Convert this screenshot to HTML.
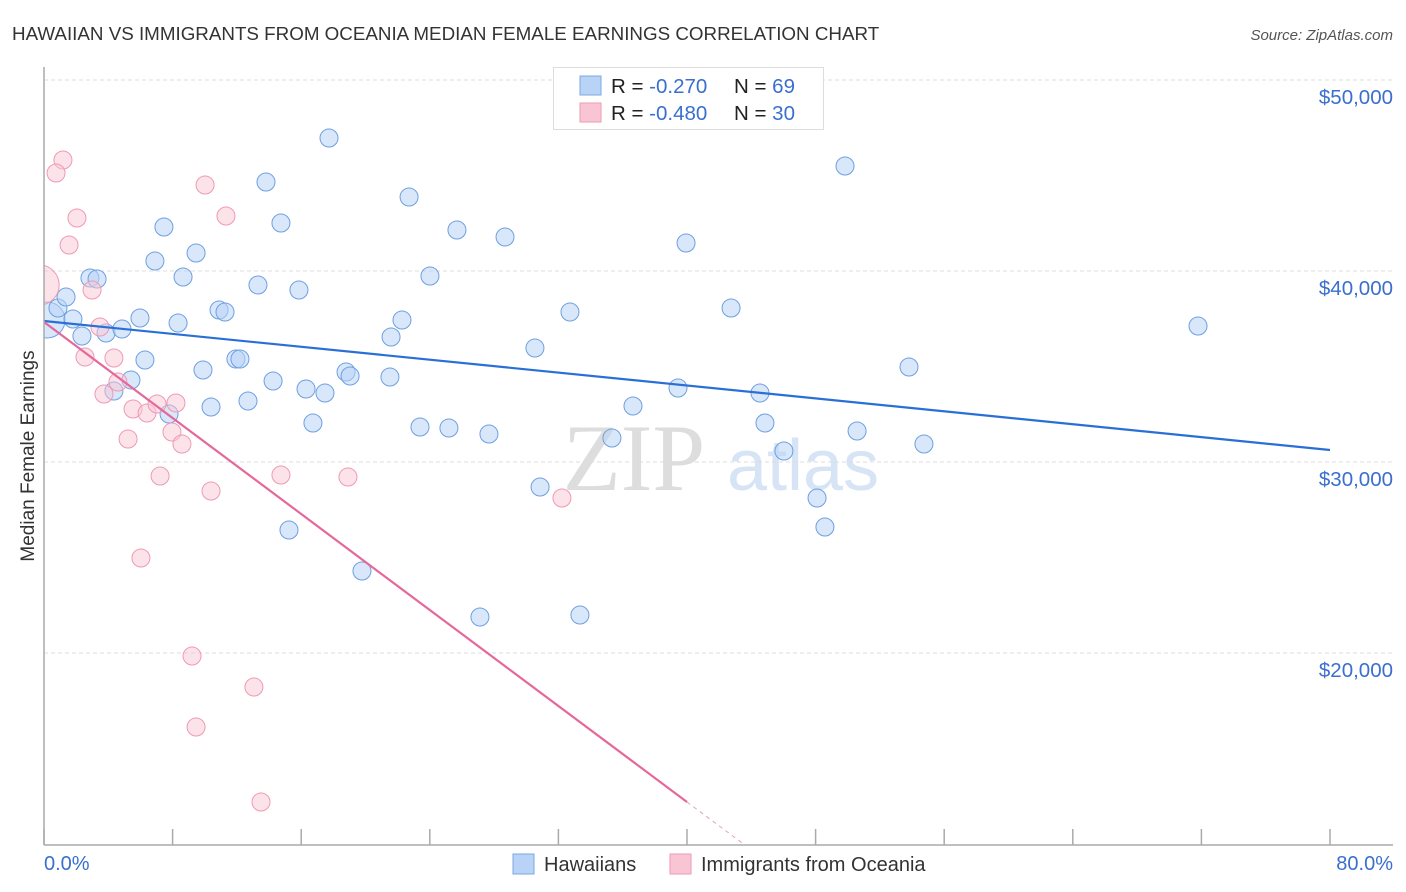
<!DOCTYPE html>
<html><head><meta charset="utf-8"><style>
body{margin:0;background:#fff;font-family:"Liberation Sans",sans-serif}
svg{display:block}
</style></head><body>
<svg id="c" width="1406" height="892" xmlns="http://www.w3.org/2000/svg">
<defs><clipPath id="plot"><rect x="44" y="60" width="1360" height="785"/></clipPath></defs>
<text x="12" y="40" font-size="18.8" fill="#333">HAWAIIAN VS IMMIGRANTS FROM OCEANIA MEDIAN FEMALE EARNINGS CORRELATION CHART</text>
<text x="1393" y="40" font-size="15" fill="#555" font-style="italic" text-anchor="end">Source: ZipAtlas.com</text>
<text x="34" y="456" font-size="19" fill="#333" text-anchor="middle" transform="rotate(-90 34 456)">Median Female Earnings</text>
<text x="634" y="490" font-size="95" fill="#ddd" font-family="Liberation Serif,serif" text-anchor="middle">ZIP</text>
<text x="803" y="490" font-size="72" fill="#d6e4f5" text-anchor="middle">atlas</text>
<g id="grid"></g><g id="marks" clip-path="url(#plot)"></g><g id="axes"></g>
<g>
<rect x="553.5" y="67.5" width="270" height="62" fill="#fff" stroke="#ddd"/>
<rect x="580" y="76" width="21" height="19" fill="#b8d3f5" stroke="#7aa8e6"/>
<rect x="580" y="103" width="21" height="19" fill="#f9c5d4" stroke="#ef9ab5"/>
<text x="611" y="93" font-size="20.5" fill="#222">R = <tspan fill="#3a6fcf">-0.270</tspan><tspan x="734">N = </tspan><tspan fill="#3a6fcf">69</tspan></text>
<text x="611" y="120" font-size="20.5" fill="#222">R = <tspan fill="#3a6fcf">-0.480</tspan><tspan x="734">N = </tspan><tspan fill="#3a6fcf">30</tspan></text>
</g>
<g>
<rect x="513" y="854" width="21" height="20" fill="#b8d3f5" stroke="#7aa8e6"/>
<text x="544" y="871" font-size="20" fill="#333">Hawaiians</text>
<rect x="670" y="854" width="21" height="20" fill="#f9c5d4" stroke="#ef9ab5"/>
<text x="701" y="871" font-size="20" fill="#333">Immigrants from Oceania</text>
</g>
</svg>
<script>
const hawX=[0.19,0.87,1.37,1.80,2.36,2.86,3.30,3.86,4.35,4.85,5.41,5.97,6.28,6.90,7.46,7.78,8.34,8.65,9.46,9.89,10.39,10.89,11.26,11.94,12.19,12.69,13.31,13.81,14.25,14.74,15.24,15.86,16.30,16.73,17.48,17.73,18.79,19.04,19.78,21.52,21.59,22.27,22.71,23.39,24.01,25.19,25.69,27.12,27.68,28.68,30.54,30.86,32.72,33.34,35.33,36.64,39.44,39.94,42.74,44.54,44.85,46.03,48.09,48.58,49.83,50.58,53.81,54.74,71.79];
const hawY=[37435,38063,38639,37487,36597,39634,39581,36754,33717,36963,34293,37539,35340,40524,42304,32513,37277,39686,40942,34817,32880,37958,37853,35393,35393,33194,39267,44660,34241,42513,26440,39005,33822,32042,33613,46963,34712,34503,24293,34450,36545,37435,43874,31832,39738,31780,42147,21885,31466,41780,35969,28691,37853,21990,31257,32932,33874,41466,38063,33613,32042,30576,28115,26597,45497,31623,34974,30942,37120];
const oceX=[-0.3,1.18,0.75,2.05,1.56,2.99,3.48,2.55,4.35,3.73,4.60,5.23,5.54,6.41,7.03,7.22,7.96,8.21,8.58,6.03,9.21,9.46,10.02,10.39,11.32,13.06,13.50,14.74,18.91,32.22];
const oceY=[39267,45812,45131,42775,41361,39005,37068,35497,35445,33560,34188,31204,32775,32565,33037,29267,31571,33089,30942,24974,19843,16126,44503,28482,42880,18220,12199,29319,29215,28115];
const yTicks=[20000,30000,40000,50000];
const yTickLabels=["$20,000","$30,000","$40,000","$50,000"];
const xTicks=[0,8,16,24,32,40,48,56,64,72,80];
const hawTrend=[37382,30628];
const oceTrend=[37330,12199,40,9948,43.6];
const NS="http://www.w3.org/2000/svg";
const sx=v=>44+v*16.075;
const sy=v=>80+(50000-v)/52.356;
function mk(tag,attrs,parent){const e=document.createElementNS(NS,tag);for(const k in attrs)e.setAttribute(k,attrs[k]);document.getElementById(parent).appendChild(e);return e;}
yTicks.forEach((t,i)=>{
 const l=mk('line',{x1:44,x2:1393,y1:sy(t),y2:sy(t),stroke:'#ddd','stroke-dasharray':'4 3'},'grid');
 
 
 const tx=mk('text',{x:1393,y:sy(t)+24,'font-size':20.5,fill:'#3a6fcf','text-anchor':'end'},'grid');
 tx.textContent=yTickLabels[i];
 
 
});
hawX.forEach((x,i)=>{
 const c=mk('circle',{cx:sx(x),cy:sy(hawY[i]),r:i==0?18:9,fill:'#b8d3f5','fill-opacity':0.55,stroke:'#6fa0e0','stroke-width':1},'marks');
 
 
});
oceX.forEach((x,i)=>{
 const c=mk('circle',{cx:sx(x),cy:sy(oceY[i]),r:i==0?20:9,fill:'#f9c5d4','fill-opacity':0.5,stroke:'#ef9ab5','stroke-width':1},'marks');
 
 
});
const bl=mk('line',{x1:sx(0),y1:sy(hawTrend[0]),x2:sx(80),y2:sy(hawTrend[1]),stroke:'#2a6fd6','stroke-width':2.2},'marks');


const pl=mk('line',{x1:sx(0),y1:sy(oceTrend[0]),x2:sx(oceTrend[2]),y2:sy(oceTrend[1]),stroke:'#e5689a','stroke-width':2.2},'marks');


const pd=mk('line',{x1:sx(oceTrend[2]),y1:sy(oceTrend[1]),x2:sx(oceTrend[4]),y2:sy(oceTrend[3]),stroke:'#e5a0b8','stroke-width':1,'stroke-dasharray':'4 4'},'marks');


const ya=mk('line',{x1:44,y1:67,x2:44,y2:845,stroke:'#aaa','stroke-width':1.5},'axes');


const xa=mk('line',{x1:44,y1:845,x2:1393,y2:845,stroke:'#aaa','stroke-width':1.5},'axes');


xTicks.forEach(t=>{
 const l=mk('line',{x1:sx(t),x2:sx(t),y1:829,y2:845,stroke:'#aaa','stroke-width':1.5},'axes');
 
 
});
const x0=mk('text',{x:44,y:870,'font-size':20,fill:'#3a6fcf'},'axes');
x0.textContent='0.0%';


const x1=mk('text',{x:1393,y:870,'font-size':20,fill:'#3a6fcf','text-anchor':'end'},'axes');
x1.textContent='80.0%';


</script>
</body></html>
